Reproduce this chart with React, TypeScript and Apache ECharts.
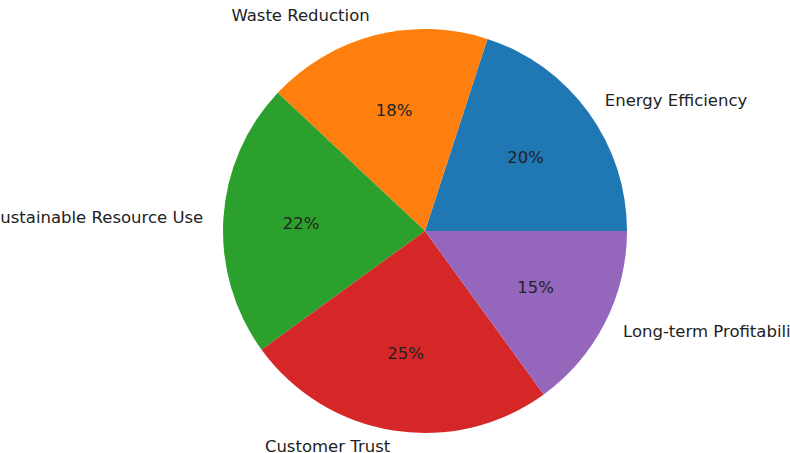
import React, { useEffect, useRef } from "react";
import * as echarts from "echarts";

const categories = [
  "Energy Efficiency",
  "Waste Reduction",
  "Sustainable Resource Use",
  "Customer Trust",
  "Long-term Profitability",
];
const values = [20, 18, 22, 25, 15];
const colors = ["#1f77b4", "#ff7f0e", "#2ca02c", "#d62728", "#9467bd"];

export default function App() {
  const ref = useRef<HTMLDivElement>(null);
  useEffect(() => {
    if (!ref.current) return;
    const chart = echarts.init(ref.current, undefined, { renderer: "svg" });
    const R = 202;
    const center = [425, 231];
    const data = categories.map((name, i) => ({
      name,
      value: values[i],
      itemStyle: { color: colors[i] },
      label: name === "Customer Trust" ? { offset: [0, -4] } : undefined,
    }));
    chart.setOption({
      animation: false,
      backgroundColor: "#ffffff",
      series: [
        {
          type: "pie",
          center,
          radius: [0, R],
          startAngle: 0,
          clockwise: false,
          avoidLabelOverlap: false,
          silent: true,
          data,
          label: {
            show: true,
            position: "outside",
            formatter: "{b}",
            fontFamily: "DejaVu Sans",
            fontSize: 16.5,
            color: "#222222",
            distanceToLabelLine: 0,
            overflow: "none",
          },
          labelLine: { show: false, length: R * 0.1, length2: 0 },
        },
        {
          type: "pie",
          center,
          radius: [R * 0.2, R],
          startAngle: 0,
          clockwise: false,
          avoidLabelOverlap: false,
          silent: true,
          data: categories.map((name, i) => ({ name, value: values[i] })),
          itemStyle: { color: "rgba(0,0,0,0)" },
          label: {
            show: true,
            position: "inside",
            formatter: (p: any) => Math.round(p.percent) + "%",
            fontFamily: "DejaVu Sans",
            fontSize: 16.5,
            color: "#222222",
          },
          labelLine: { show: false },
        },
      ],
    });
    return () => chart.dispose();
  }, []);
  return (
    <div
      ref={ref}
      style={{ position: "absolute", left: 0, top: 0, width: 790, height: 453 }}
    />
  );
}
